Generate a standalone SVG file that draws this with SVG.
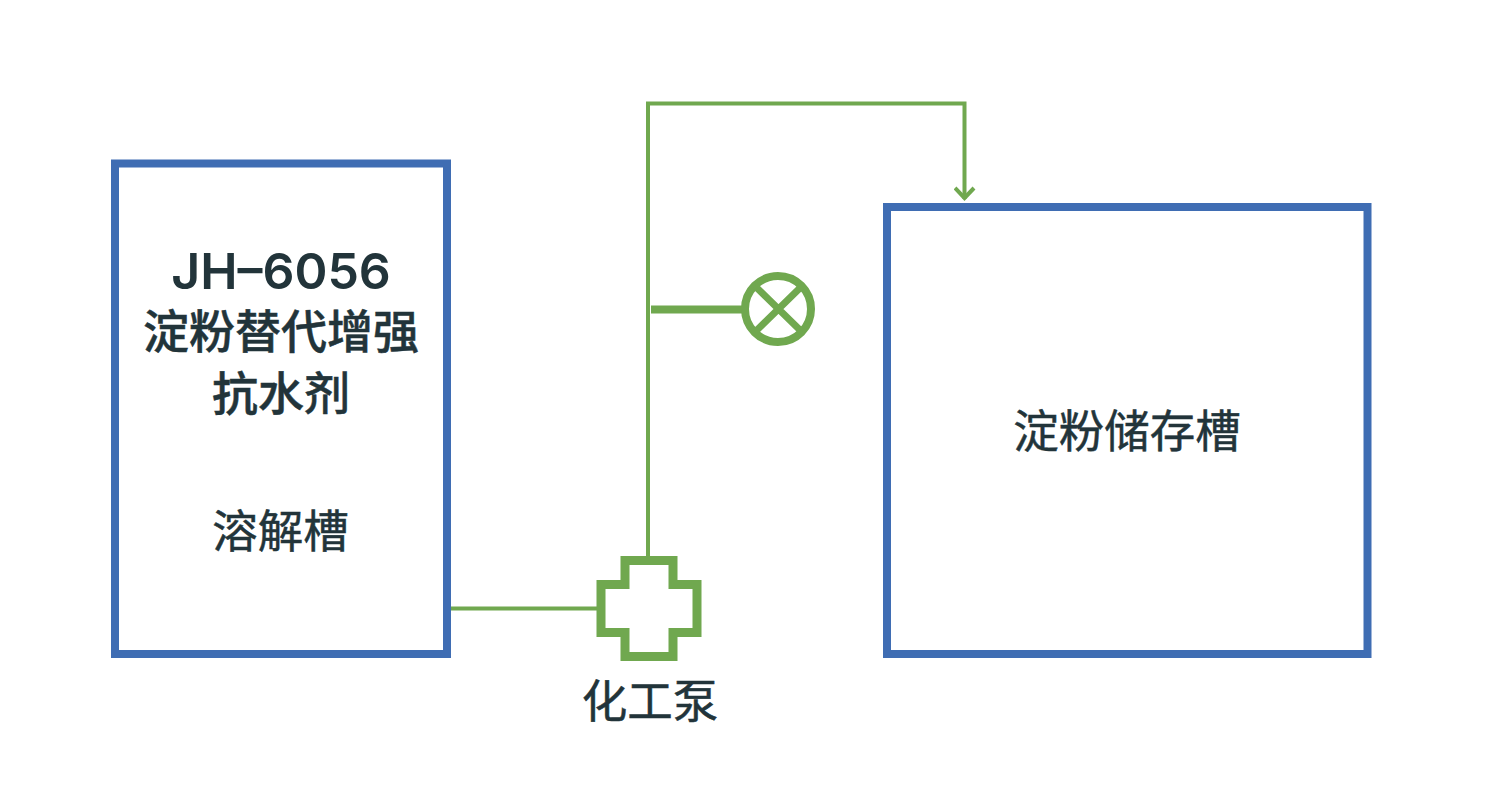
<svg xmlns="http://www.w3.org/2000/svg" width="1500" height="800" viewBox="0 0 1500 800">
<style>
.tank{fill:#fff;stroke:#3f6db3;stroke-width:8}
.g{fill:none;stroke:#70a84f}
.t{fill:#22343a;text-anchor:middle}
.a{font-family:Inter,"Liberation Sans",sans-serif;font-weight:600;font-size:50px}
.b{font-family:"Noto Sans CJK SC",sans-serif;font-weight:500;font-size:46px;stroke:#22343a;stroke-width:.5}
.r{font-family:"Noto Sans CJK SC",sans-serif;font-size:45.500px;stroke:#22343a;stroke-width:.5}
</style>
<defs><marker id="arr" markerUnits="userSpaceOnUse" markerWidth="24" markerHeight="20" refX="11" refY="14" orient="0" viewBox="0 0 24 20"><path d="M1.500 3L11 13L20.500 3" fill="none" stroke="#70a84f" stroke-width="4"/></marker></defs>
<rect width="1500" height="800" fill="#fff"/>
<g id="connectors">
<path class="g" stroke-width="4" d="M451 608.500H598"/>
<path class="g" stroke-width="4" d="M648 557V103.500H964.500V199" marker-end="url(#arr)"/>
<path class="g" stroke-width="8" d="M651 309.500H743"/>
</g>
<g id="tank-left">
<rect class="tank" x="115" y="163.500" width="332" height="490.500"/>
<text class="t a" x="281" y="289">JH–6056</text>
<text class="t b" x="281" y="348">淀粉替代增强</text>
<text class="t b" x="281" y="410">抗水剂</text>
<text class="t r" x="280.500" y="548">溶解槽</text>
</g>
<g id="tank-right">
<rect class="tank" x="887" y="207" width="480.500" height="447"/>
<text class="t r" x="1127" y="448">淀粉储存槽</text>
</g>
<g id="valve">
<circle class="g" stroke-width="8" cx="778" cy="309" r="33"/>
<path class="g" stroke-width="7" d="M755 286L802 332M802 286L755 332"/>
</g>
<g id="pump">
<path class="g" stroke-width="9" d="M625 560.500H673V584.500H697V632.500H673V656.500H625V632.500H601V584.500H625Z"/>
<text class="t r" x="650" y="718">化工泵</text>
</g>
</svg>
